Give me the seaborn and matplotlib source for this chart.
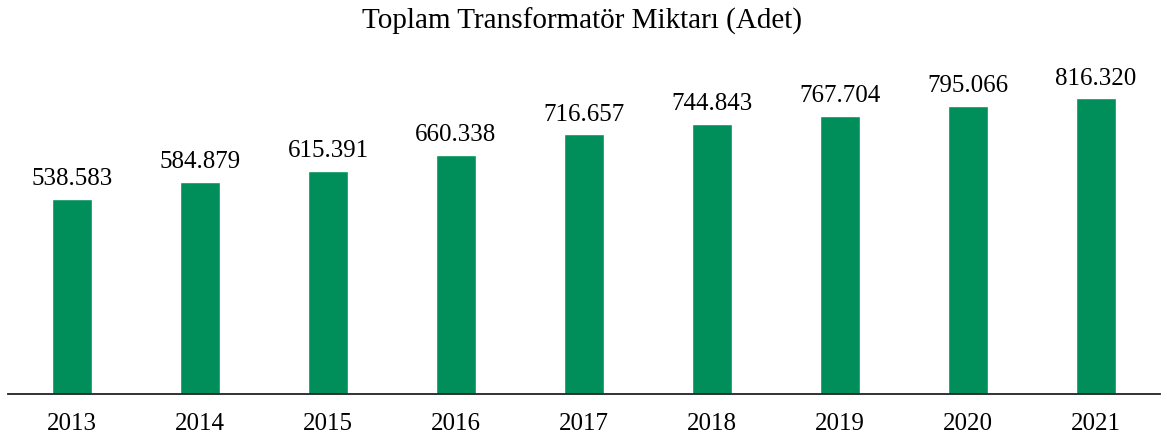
import matplotlib
matplotlib.use("Agg")
import matplotlib.pyplot as plt
import pandas as pd
import seaborn as sns

years = ["2013", "2014", "2015", "2016", "2017", "2018", "2019", "2020", "2021"]
counts = [538583, 584879, 615391, 660338, 716657, 744843, 767704, 795066, 816320]
title = "Toplam Transformatör Miktarı (Adet)"

df = pd.DataFrame({"year": years, "count": counts})

sns.set_style("white")
plt.rcParams["font.family"] = ["Liberation Serif", "DejaVu Serif"]
plt.rcParams["text.color"] = "black"
plt.rcParams["xtick.color"] = "black"

W, H = 1163, 439
fig = plt.figure(figsize=(W / 100, H / 100), dpi=100)
ax = fig.add_axes([8 / W, 44 / H, 1152 / W, 326 / H])

sns.barplot(data=df, x="year", y="count", color="#008F5A", saturation=1,
            width=0.3125, ax=ax)

ax.set_ylim(0, 900000)
ax.set_xlim(-0.5, 8.5)

labels = [f"{v:,}".replace(",", ".") for v in counts]
ax.bar_label(ax.containers[0], labels=labels, padding=7, fontsize=18, color="black")

for side in ["top", "right", "left"]:
    ax.spines[side].set_visible(False)
ax.spines["bottom"].set_color("#222222")
ax.spines["bottom"].set_linewidth(1.3)
ax.set_yticks([])
ax.tick_params(axis="x", length=0, pad=13, labelsize=18, labelcolor="black")
ax.set_xlabel("")
ax.set_ylabel("")

fig.text(0.5, 1 - 21 / H, title, ha="center", va="center", fontsize=21, color="black")

fig.savefig("out.png", dpi=100)
